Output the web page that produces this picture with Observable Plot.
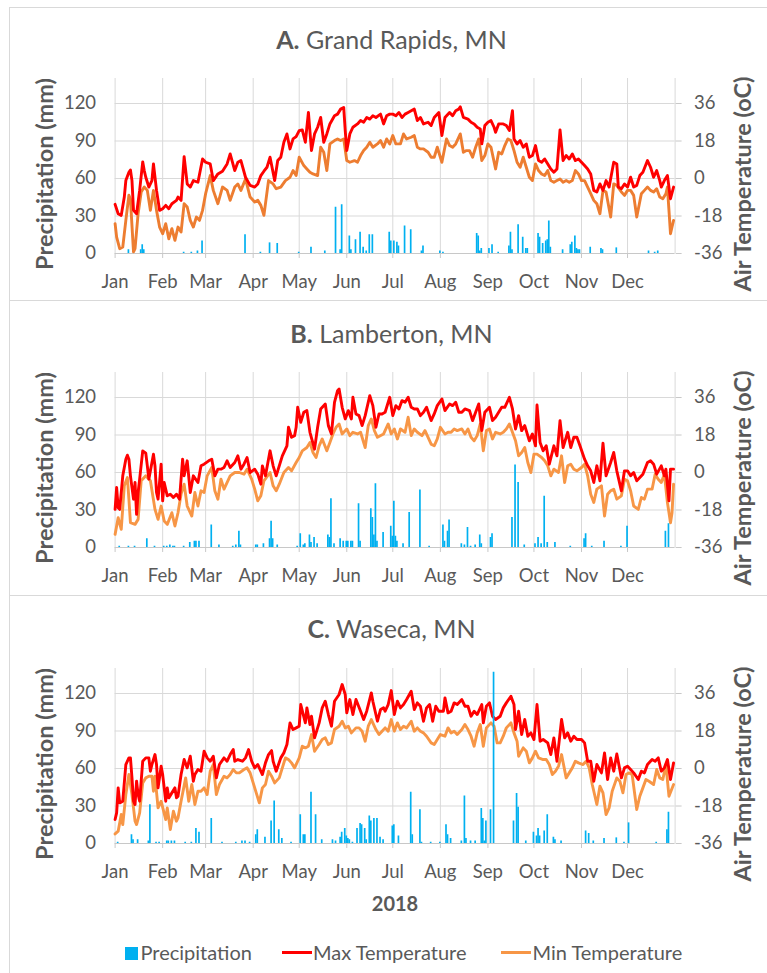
<!DOCTYPE html>
<html>
<head>
<meta charset="utf-8">
<script src="https://cdn.jsdelivr.net/npm/d3@7"></script>
<script src="https://cdn.jsdelivr.net/npm/@observablehq/plot@0.6"></script>
<style>
  body { margin: 0; background: #fff; }
  #root { position: relative; width: 767px; height: 973px; overflow: hidden; background: #fff; font-family: Lato, "Open Sans", sans-serif; color: #595959; }
  .panel { position: absolute; left: 9px; width: 800px; border-left: 1px solid #d9d9d9; border-top: 1px solid #d9d9d9; box-sizing: border-box; }
  .title { position: absolute; left: 0; width: 783px; text-align: center; font-size: 25px; line-height: 1.2; white-space: nowrap; }
  .chart { position: absolute; left: 0; }
  .year { position: absolute; left: 0; width: 790px; text-align: center; font-size: 20px; font-weight: bold; line-height: 1.2; }
  .leg { position: absolute; font-size: 20px; line-height: 1.2; white-space: nowrap; }
  .sw { position: absolute; }
</style>
</head>
<body>
<div id="root">
  <div class="panel" style="top:7px;height:293px"></div>
  <div class="panel" style="top:300px;height:295px"></div>
  <div class="panel" style="top:595px;height:400px"></div>
  <div class="title" style="top:23.5px"><b>A.</b> Grand Rapids, MN</div>
  <div class="title" style="top:317.5px"><b>B.</b> Lamberton, MN</div>
  <div class="title" style="top:612.5px"><b>C.</b> Waseca, MN</div>
  <div class="chart" id="cA" style="top:6px"></div>
  <div class="chart" id="cB" style="top:300px"></div>
  <div class="chart" id="cC" style="top:596px"></div>
  <div class="year" style="top:891px">2018</div>
  <div class="sw" style="left:125px;top:947px;width:12.5px;height:12.5px;background:#00B0F0"></div>
  <div class="leg" style="left:140.5px;top:939.5px">Precipitation</div>
  <div class="sw" style="left:282px;top:950.5px;width:30px;height:3px;background:#FF0000"></div>
  <div class="leg" style="left:313px;top:939.5px">Max Temperature</div>
  <div class="sw" style="left:501px;top:950.5px;width:30px;height:3px;background:#F79646"></div>
  <div class="leg" style="left:532.5px;top:939.5px">Min Temperature</div>
</div>
<script>
// ---- axis definitions ----
const months = ["Jan","Feb","Mar","Apr","May","Jun","Jul","Aug","Sep","Oct","Nov","Dec"];
const monthStarts = [0,31,59,90,120,151,181,212,243,273,304,334];
const precipTicks = [0,30,60,90,120];

// ---- A. Grand Rapids, MN : [day of year, value] ----
const precipA = [[9,3],[17,3],[18,7],[19,3],[45,1],[50,1],[54,2],[57,10],[85,15],[95,1],[101,8.5],[106,8],[120,1],[128,5],[137,2],[144,37],[147,3],[148,39],[153,14],[154,3],[157,11],[160,17],[162,5],[164,2],[166,15],[168,15],[179,17],[180,10],[182,10],[184,9],[185,6],[189,22],[193,19],[200,2],[201,6],[212,2],[214,1],[236,16],[237,14],[238,2],[239,4],[244,4],[246,7],[250,1],[257,6],[258,17],[259,3],[263,23],[266,13],[268,4],[269,4],[276,16],[277,13],[279,8],[281,10],[282,11],[283,26],[284,5],[292,3],[297,7],[298,9],[300,14],[301,4],[302,3],[303,3],[310,5],[317,4],[318,3],[327,4.5],[348,2],[352,1],[354,2]];
const maxA = [[0,-12.4],[2,-16.9],[4,-17.7],[6,-8.9],[7,-1],[9,3],[10,4.1],[11,-1],[12,-15.3],[14,-16.9],[16,-5.7],[18,8],[19,3.8],[20,0.6],[22,-4.1],[24,-1],[25,7],[27,-5.7],[29,-15.3],[31,-14.5],[33,-12.9],[35,-14.5],[37,-12.1],[40,-10.5],[41,-8.9],[43,-10.5],[45,10.5],[47,-2.6],[49,-4.1],[51,-1],[54,-1.8],[57,9.4],[59,7.8],[62,7],[64,-1],[67,2.2],[70,3.5],[73,7],[75,11.8],[78,3.8],[80,7.8],[82,8.6],[85,0.6],[88,-3.3],[91,-4.1],[93,-2.6],[95,1.4],[97,3.5],[99,5.4],[101,10.2],[104,-1],[106,8.6],[108,10.2],[110,17.4],[112,21.4],[114,14.2],[116,19],[118,20.1],[120,23],[122,23.3],[124,17.4],[126,31.7],[128,13.4],[130,21.4],[132,24.6],[134,29.3],[136,17.4],[138,21.4],[140,26.2],[143,30.1],[145,30.9],[147,33.3],[149,34.1],[150,23],[151,13.4],[153,21.4],[155,24.6],[158,26.2],[160,27.8],[162,27],[164,29.3],[166,28.5],[168,30.1],[170,29.3],[173,30.9],[175,26.2],[177,30.1],[179,30.9],[181,30.9],[183,30.1],[185,31.7],[187,29.3],[189,30.9],[191,31.7],[193,32.5],[195,33.3],[197,27.8],[199,29.3],[201,26.2],[204,27],[206,25.4],[208,29.3],[211,31.7],[213,20.6],[215,29.3],[218,31.7],[220,30.1],[222,32.5],[224,33.3],[225,34.4],[227,29.3],[230,28.5],[232,27],[234,26.2],[236,24.6],[238,23.8],[239,16.6],[241,25.4],[243,27],[245,27.8],[247,24.6],[248,22.2],[250,26.2],[253,26.2],[255,25.4],[257,23],[259,32.5],[260,19],[262,16.6],[264,18.2],[266,15],[268,16.6],[270,10.2],[272,11],[274,15.8],[276,8.6],[278,7.8],[280,9.4],[282,7],[284,4.6],[286,3],[288,4.6],[290,23.3],[292,8.6],[294,11],[296,9.4],[298,11.8],[300,8.6],[302,9.4],[304,7.8],[306,6.2],[308,4.6],[310,2.2],[312,-5.7],[314,-6.5],[316,-2.6],[318,-5.7],[320,-1],[322,-4.1],[325,7.8],[327,7],[328,-4.1],[330,-4.9],[332,-2.6],[334,-4.1],[336,0.6],[338,-4.1],[340,-3.3],[342,1.4],[344,3],[347,8.6],[349,5.4],[351,0.6],[353,3.8],[355,-1],[356,-4.1],[358,-1],[360,1.4],[362,-9.7],[364,-4.1]];
const minA = [[0,-21.7],[1,-28.1],[3,-33.7],[5,-32.9],[7,-20.1],[9,-8],[10,-10],[12,-35.2],[13,-33.7],[15,-16.9],[17,-6.5],[19,-4.1],[21,-5.7],[23,-15.3],[25,-5.7],[27,-15.3],[29,-23.3],[31,-26.5],[33,-21.7],[35,-28.9],[37,-24.1],[39,-29.7],[41,-23.3],[43,-25.7],[45,-12.1],[47,-13.7],[49,-20.1],[51,-23.3],[53,-18.5],[55,-20.1],[57,-15.3],[59,-7.3],[62,1.4],[64,-5.7],[67,-12.1],[70,-4.1],[73,-5.7],[75,-10.5],[78,-4.1],[80,-2.6],[82,-5.7],[85,-0.2],[88,-8.9],[91,-11.3],[93,-10.5],[95,-12.9],[97,-17.7],[100,-1],[103,-2.6],[105,-4.9],[108,-4.1],[111,-1],[114,0.6],[116,3.8],[118,1.4],[120,10.2],[123,6.2],[125,4.6],[127,3],[129,2.2],[132,1.4],[134,15],[136,12.6],[138,3.8],[140,16.6],[143,18.2],[145,19],[147,18.2],[149,19],[151,8.6],[153,7.8],[156,8.6],[158,7.8],[160,11],[162,13.4],[164,15],[166,17.4],[168,15],[171,16.6],[173,18.2],[175,15],[177,19],[179,16.6],[181,20.6],[183,16.6],[186,16.6],[188,21.4],[190,19],[193,19.8],[195,20.6],[197,15],[199,14.2],[201,14.2],[204,12.6],[206,10.2],[208,10.2],[210,15],[213,7.8],[216,19],[218,15.8],[220,15],[222,16.6],[225,21.4],[227,12.6],[229,13.4],[231,13.4],[233,10.2],[235,15],[237,19],[239,8.6],[241,11],[243,16.6],[245,15],[248,4.6],[250,12.6],[252,11.8],[254,15.8],[256,19],[258,18.2],[260,13.4],[262,7.8],[264,5.4],[266,10.2],[268,5.4],[270,0.6],[272,-1],[274,7],[276,3.8],[278,2.2],[280,1.4],[282,3.8],[284,-1],[286,-1.8],[288,-1],[290,-0.2],[292,-1.8],[294,-1],[296,-1.8],[298,-1],[300,3.8],[302,2.2],[304,-1],[306,-1],[308,-4.1],[310,-7.3],[312,-10.5],[314,-12.1],[316,-16.9],[318,-5.7],[320,-6.5],[323,-18.5],[325,-2.6],[327,-3.3],[330,-6.5],[332,-8.1],[334,-5.7],[336,-5.7],[338,-8.1],[340,-18.5],[343,-7.3],[345,-5.7],[347,-4.1],[349,-5.7],[351,-6.5],[353,-4.9],[355,-8.9],[357,-9.7],[359,-7.3],[360,-4.1],[362,-26.5],[363,-23.3],[364,-20.1]];

// ---- B. Lamberton, MN ----
const precipB = [[3,1],[9,1],[13,1],[21,7],[26,1],[32,1],[34,1],[36,2],[38,1],[39,1],[45,1],[49,4],[52,5],[53,5],[55,5],[63,18],[68,2],[77,1],[79,2],[81,13],[82,2],[92,2],[93,2],[97,3],[101,7],[102,21],[103,7],[106,2],[119,1],[121,11],[123,2],[124,3],[127,10],[128,4],[130,8],[132,3],[139,10],[140,8],[141,39],[143,3],[147,7],[149,5],[151,5],[152,5],[154,5],[155,5],[159,35],[160,5],[167,31],[168,24],[169,10],[170,51],[171,5],[175,12],[180,17],[181,9],[182,37],[183,9],[184,5],[188,3],[192,28],[199,46],[205,1],[214,18],[215,5],[217,13],[218,22],[226,3],[228,2],[230,16],[232,1],[235,2],[238,10],[239,3],[245,8],[246,11],[259,24],[261,66],[263,52],[267,2],[274,3],[276,8],[278,3],[280,41],[282,4],[287,4],[297,1],[306,7],[307,11],[311,1],[319,5],[330,1],[334,17],[359,13],[361,19]];
const maxB = [[0,-17.7],[1,-7.2],[2,-16.9],[3,-17.7],[5,-1.6],[7,6.4],[8,8.3],[9,6.4],[10,-1.6],[12,-12.8],[13,-4.8],[14,-20.1],[15,-9.6],[16,-3.2],[18,10.4],[20,9.3],[21,3.2],[22,-3.2],[25,8.8],[26,3.2],[27,-9.6],[28,-12.8],[30,4],[31,-13.6],[32,-4.8],[34,-11.2],[36,-10.4],[38,-12],[40,-10.4],[42,-12.8],[44,6.4],[45,-1.6],[47,5.6],[49,-9.6],[51,-1.6],[54,-4.8],[56,3.2],[58,4],[61,5.6],[63,6.4],[65,-1.6],[67,1.6],[69,1.6],[71,2.4],[73,5.6],[75,2.4],[78,4.8],[80,8],[82,1.6],[84,4],[86,7.2],[88,0],[91,1.6],[93,-0.8],[95,-5.6],[96,3.2],[98,-1.6],[101,10.4],[103,3.2],[105,-1.6],[107,3.2],[109,8],[112,12.8],[113,21.7],[115,16.9],[117,17.7],[118,21.7],[119,31.3],[121,24.1],[123,28.9],[125,29.7],[127,19.3],[130,11.2],[132,21.7],[134,30.5],[137,32.9],[139,22.5],[141,18.5],[143,33.7],[145,39.3],[146,40.1],[148,31.3],[150,25.7],[152,29.7],[154,25.7],[155,36.1],[157,28.1],[159,27.3],[161,22.5],[163,27.3],[166,36.9],[168,32.1],[170,21.7],[172,28.1],[174,28.1],[176,28.9],[179,36.1],[181,27.3],[183,32.1],[185,30.5],[187,34.5],[189,33.7],[191,36.1],[193,31.3],[195,30.5],[197,30.5],[199,27.3],[201,28.9],[203,31.3],[206,24.9],[208,28.1],[210,32.1],[213,35.3],[215,29.7],[218,32.9],[220,32.1],[222,33.7],[224,28.9],[226,28.9],[228,30.5],[231,29.7],[233,24.9],[235,28.9],[237,32.9],[239,20.1],[241,28.9],[244,31.3],[246,24.9],[248,26.5],[250,28.9],[252,31.3],[254,31.3],[257,36.1],[259,30.5],[261,20.9],[263,27.3],[265,20.1],[267,22.5],[270,15.2],[272,18.5],[274,12.8],[275,32.4],[277,14.4],[279,10.4],[281,12.8],[283,4],[286,12.8],[288,8],[290,24.9],[292,12],[295,19.3],[297,12],[299,16.9],[301,16.9],[303,12.8],[306,6.4],[308,3.2],[310,0.8],[312,-4.8],[314,3.2],[316,-4],[318,14.1],[320,-1.6],[323,4.8],[325,9.6],[327,0.8],[330,-8.8],[332,0.8],[334,0.8],[336,-1.6],[338,0],[340,-4],[344,-0.8],[347,4.8],[349,5.6],[351,4],[353,-0.8],[356,3.2],[358,-1.6],[359,1.6],[361,-13.6],[362,1.6],[364,1.6]];
const minB = [[0,-29.7],[2,-21.7],[4,-27.3],[6,-6.4],[8,-2.4],[9,-12.8],[10,-24.1],[13,-24.9],[15,-22.5],[17,-4],[20,-1.6],[23,-4],[26,-17.7],[28,-22.5],[30,-16.1],[32,-23.3],[34,-24.9],[37,-19.3],[39,-25.7],[41,-19.3],[43,-10.4],[45,-5.6],[47,-16.1],[50,-20.9],[52,-9.6],[54,-16.1],[56,-8.8],[58,-9.6],[60,-1.6],[63,2.4],[65,-8.8],[67,-12.8],[69,-3.2],[71,-8],[75,-1.6],[78,0],[81,0],[84,-0.8],[86,1.6],[89,-3.2],[91,-8],[93,-13.6],[95,-11.2],[97,-4],[101,0],[103,-6.4],[105,-8.8],[107,-5.6],[110,0],[113,2.4],[115,0.8],[118,4.8],[120,7.2],[122,10.4],[125,12],[127,14.4],[129,9.6],[131,7.2],[133,12.8],[135,16.1],[138,10.4],[140,14.4],[142,18.5],[144,21.7],[146,23.3],[148,18.5],[151,20.9],[153,17.7],[155,19.3],[158,18.5],[160,19.3],[163,12],[165,22.5],[167,25.7],[169,20.1],[171,16.9],[175,18.5],[178,23.3],[180,18.5],[182,20.9],[184,16.1],[186,20.9],[189,19.3],[191,26.5],[193,17.7],[195,20.9],[197,19.3],[200,17.7],[202,20.1],[204,16.9],[206,13.6],[208,12.8],[210,16.1],[212,21.7],[215,18.5],[217,19.3],[219,19.3],[221,20.9],[223,20.1],[226,20.9],[228,18.5],[230,20.9],[232,16.9],[234,15.2],[236,17.7],[238,23.3],[240,10.4],[242,20.1],[244,20.9],[246,16.1],[248,19.3],[251,18.5],[253,19.3],[255,20.9],[257,23.3],[259,19.3],[261,15.2],[263,8],[265,9.6],[267,12],[269,4.8],[271,0],[273,8.8],[275,8.8],[278,7.2],[280,5.6],[282,3.2],[284,-1.6],[286,1.6],[289,0],[291,8],[293,-4.8],[295,3.2],[297,4],[299,1.6],[301,0.8],[304,2.4],[306,4],[308,-1.6],[310,-10.4],[312,-14.4],[314,-8],[317,-6.4],[319,-20.9],[321,-10.4],[323,-8.8],[325,-8],[327,-12.8],[330,-11.2],[332,-3.2],[334,-4],[336,-8.8],[338,-16.1],[341,-17.7],[343,-12],[345,-12.8],[347,-8],[350,-8],[352,-0.8],[354,-3.2],[356,-4.8],[358,-0.8],[360,-14.4],[362,-24.1],[363,-19.3],[364,-5.6]];

// ---- C. Waseca, MN ----
const precipC = [[2,1],[11,7],[12,3],[15,3],[22,2],[23,31],[27,1],[29,1],[34,2],[35,2],[37,2],[39,2],[46,1],[50,1],[53,12],[55,9],[63,20],[70,1],[79,1],[83,2],[85,2],[88,1],[92,7],[93,11],[98,5],[102,18],[104,34],[107,11],[109,4],[115,1],[121,23],[123,7],[124,7],[128,41],[131,23],[135,3],[142,3],[144,2],[147,5],[148,9],[150,12],[151,6],[152,4],[153,3],[155,1],[158,12],[160,16],[161,15],[163,12],[164,3],[166,22],[167,18],[169,20],[171,20],[173,5],[175,3],[181,14],[182,15],[185,6],[193,41],[194,7],[199,27],[200,1],[206,1],[212,1],[216,15],[217,7],[219,4],[226,2],[228,38],[229,4],[232,2],[235,2],[239,28],[240,20],[241,2],[242,18],[245,27],[247,137],[260,18],[262,40],[263,29],[268,2],[273,9],[275,6],[276,12],[277,6],[280,10],[282,23],[286,5],[287,3],[291,2],[307,10],[309,8],[312,2],[319,4],[327,4.5],[332,1],[335,16.5],[353,1],[360,11],[361,25]];
const maxC = [[0,-24.5],[1,-21.3],[2,-9.3],[3,-16.5],[5,-15.7],[7,1.9],[9,5.1],[10,5.1],[11,-4.5],[12,-15.7],[13,-17.3],[14,-6.1],[15,-12.5],[16,-15.7],[18,3.5],[20,5.1],[22,5.1],[23,-1.3],[24,1.9],[26,6.7],[27,1.9],[28,-9.3],[30,1.1],[31,-2.9],[33,-15.7],[34,-9.3],[35,-14.1],[37,-11.7],[39,-9.3],[40,-14.1],[41,-13.3],[43,-2.9],[45,4.3],[47,0.3],[49,5.9],[51,-6.1],[52,-2.9],[54,-0.5],[56,-1.3],[58,8.3],[60,5.1],[62,3.5],[64,5.9],[66,-4.5],[68,1.9],[71,5.1],[73,3.5],[75,6.7],[77,9.1],[78,3.5],[80,4.3],[83,3.5],[85,5.1],[87,9.1],[89,3.5],[91,0.3],[93,1.9],[96,-2.9],[98,2.7],[100,6.7],[102,8.6],[103,3.5],[105,-1.3],[108,5.1],[110,7.5],[112,11.5],[114,21.9],[116,18.7],[118,19.5],[120,20.3],[121,30.7],[124,21.9],[125,29.1],[127,21.1],[128,25.1],[130,14.7],[133,21.9],[135,29.1],[137,32.3],[139,25.9],[141,20.3],[143,32.3],[146,35.5],[148,40.3],[150,35.5],[151,26.7],[153,33.1],[155,25.9],[157,33.1],[160,27.5],[162,23.5],[164,27.5],[167,36.3],[168,32.3],[171,22.7],[173,28.3],[175,29.1],[176,27.5],[178,30.7],[180,37.4],[182,25.9],[184,32.3],[186,29.1],[188,30.7],[190,33.1],[193,37.1],[195,28.3],[197,31.5],[199,29.9],[201,22.7],[203,29.1],[205,30.7],[207,22.7],[209,29.9],[211,27.5],[214,27.5],[215,33.9],[217,26.7],[219,27.5],[221,31.5],[223,30.7],[226,33.1],[228,29.9],[230,29.9],[232,25.1],[234,27.5],[236,25.9],[239,30.7],[240,21.9],[242,29.9],[244,31.5],[246,25.1],[248,23.5],[251,25.1],[253,29.1],[255,31.5],[258,34.7],[260,30.7],[261,18.7],[263,27.5],[265,16.3],[267,23.5],[269,15.5],[271,17.1],[273,13.9],[275,30.7],[277,13.1],[279,13.9],[282,12.3],[284,6.7],[286,14.7],[288,3.5],[291,23.5],[293,14.7],[295,17.1],[297,13.1],[299,15.5],[301,13.9],[304,13.9],[306,12.3],[308,3.5],[310,3.5],[312,-6.1],[314,1.9],[317,-2.1],[319,7.5],[321,-5.3],[323,5.1],[325,-1.3],[327,7],[330,-4.5],[332,0.3],[334,1.1],[336,-0.5],[338,-2.1],[341,-5.3],[343,-1.3],[345,-2.1],[347,1.9],[350,4.3],[352,3.5],[354,5.1],[356,-1.3],[358,0.3],[360,4.3],[362,-5.3],[364,2.7]];
const minC = [[0,-31.4],[2,-30.1],[4,-22.1],[5,-26.9],[7,-12.5],[9,-2.9],[11,-12.5],[13,-25.3],[14,-26.9],[16,-21.3],[18,-6.9],[20,-4.5],[22,-3.7],[24,-3.7],[25,-10.9],[26,-3.7],[28,-18.9],[30,-15.7],[33,-24.5],[34,-18.9],[36,-29.3],[38,-20.5],[40,-25.3],[41,-23.7],[43,-15.7],[46,-4.5],[48,-15.7],[50,-7.7],[52,-17.3],[54,-10.9],[56,-10.9],[58,-9.3],[60,-12.5],[62,-1.3],[64,1.9],[66,-12.5],[68,-7.7],[71,-3.7],[73,-4.5],[75,-2.9],[77,-0.5],[79,-2.1],[81,-2.1],[84,-0.5],[86,0.3],[88,-2.1],[90,-6.9],[92,-11.7],[94,-16.5],[96,-9.3],[98,-7.7],[100,-1.3],[102,-3.7],[104,-6.9],[107,-4.5],[109,0.3],[111,5.1],[113,4.3],[115,2.7],[117,0.3],[120,5.1],[122,10.7],[124,9.9],[126,10.7],[128,16.3],[130,8.3],[133,11.5],[135,13.9],[137,14.7],[139,11.5],[141,12.3],[143,18.7],[146,20.3],[148,22.7],[150,19.5],[152,20.3],[154,17.1],[157,19.5],[159,19.5],[161,17.9],[163,13.1],[165,20.3],[167,23.5],[170,18.7],[172,16.3],[174,17.9],[176,19.5],[178,17.9],[180,23.5],[182,17.9],[184,21.9],[186,18.7],[188,20.3],[190,19.5],[193,22.7],[195,17.9],[197,19.5],[199,17.9],[201,17.1],[203,15.5],[206,12.3],[208,11.5],[210,13.9],[212,16.3],[215,15.5],[217,19.5],[219,17.1],[221,17.9],[223,16.3],[226,18.7],[228,21.1],[230,18.7],[232,15.5],[234,10.7],[236,17.1],[238,21.1],[240,10.7],[242,19.5],[245,21.9],[247,20.3],[249,12.3],[251,12.3],[253,15.5],[255,19.5],[258,21.9],[260,17.1],[262,13.1],[263,5.9],[266,9.9],[268,8.3],[270,2.7],[272,5.1],[274,8.3],[276,5.1],[279,4.3],[281,4.3],[283,1.9],[285,-2.9],[287,-1.3],[289,1.1],[291,6.7],[294,-4.5],[296,-2.1],[298,0.3],[300,3.5],[302,2.7],[305,1.9],[307,3.5],[309,0.3],[311,-7.7],[314,-17.3],[316,-8.5],[318,-11.7],[320,-22.1],[322,-18.9],[324,-10.9],[327,-4.5],[329,-6.1],[331,-11.7],[333,-2.9],[335,-2.1],[337,-2.9],[340,-19.7],[342,-13.3],[344,-9.3],[346,-5.3],[348,-6.1],[351,-7.7],[353,-0.5],[355,-4.5],[357,-5.3],[359,1.9],[361,-13.3],[364,-7.7]];

// temperature (right axis, -36..48 °C) shares the frame with precipitation (0..140 mm)
const toMM = t => (t + 36) / 0.6;

function panel(precip, maxT, minT, minColor) {
  return Plot.plot({
    width: 767,
    height: 295,
    marginLeft: 114.6,
    marginRight: 92.4,
    marginTop: 72,
    marginBottom: 48,
    x: {domain: [0, 365]},
    y: {domain: [0, 140]},
    style: {fontFamily: "Lato, 'Open Sans', sans-serif", fontSize: "18.5px", color: "#595959", background: "transparent", overflow: "visible"},
    marks: [
      Plot.gridX([...monthStarts, 365], {stroke: "#d9d9d9", strokeOpacity: 1}),
      Plot.gridY(precipTicks.slice(1), {stroke: "#d9d9d9", strokeOpacity: 1}),
      Plot.ruleY([0], {stroke: "#c8c8c8"}),
      Plot.axisX(monthStarts, {anchor: "bottom", tickSize: 5, tickPadding: 16, stroke: "#c8c8c8", label: null,
        tickFormat: d => months[monthStarts.indexOf(d)]}),
      Plot.axisY(precipTicks, {anchor: "left", tickSize: 0, tickPadding: 19, label: null}),
      Plot.axisY(precipTicks, {anchor: "right", tickSize: 6, tickPadding: 13, stroke: "#c8c8c8", label: null,
        tickFormat: d => String(Math.round(d * 0.6 - 36))}),
      Plot.line(minT, {x: d => d[0], y: d => toMM(d[1]), stroke: minColor, strokeWidth: 2.9, strokeLinejoin: "round"}),
      Plot.line(maxT, {x: d => d[0], y: d => toMM(d[1]), stroke: "#FF0000", strokeWidth: 2.9, strokeLinejoin: "round"}),
      Plot.rectY(precip, {x1: d => d[0] - 0.55, x2: d => d[0] + 0.55, y: d => d[1], fill: "#00B0F0"}),
      Plot.text(["Precipitation (mm)"], {text: d => d, frameAnchor: "left", textAnchor: "middle", dx: -70, dy: 8, rotate: -90,
        fontWeight: "bold", fontSize: 23.5, fill: "#595959"}),
      Plot.text(["Air Temperature (oC)"], {text: d => d, frameAnchor: "right", textAnchor: "middle", dx: 68, dy: 18, rotate: -90,
        fontWeight: "bold", fontSize: 23.5, fill: "#595959"})
    ]
  });
}

document.getElementById("cA").append(panel(precipA, maxA, minA, "#ED7D31"));
document.getElementById("cB").append(panel(precipB, maxB, minB, "#F79646"));
document.getElementById("cC").append(panel(precipC, maxC, minC, "#F79646"));
</script>
</body>
</html>
